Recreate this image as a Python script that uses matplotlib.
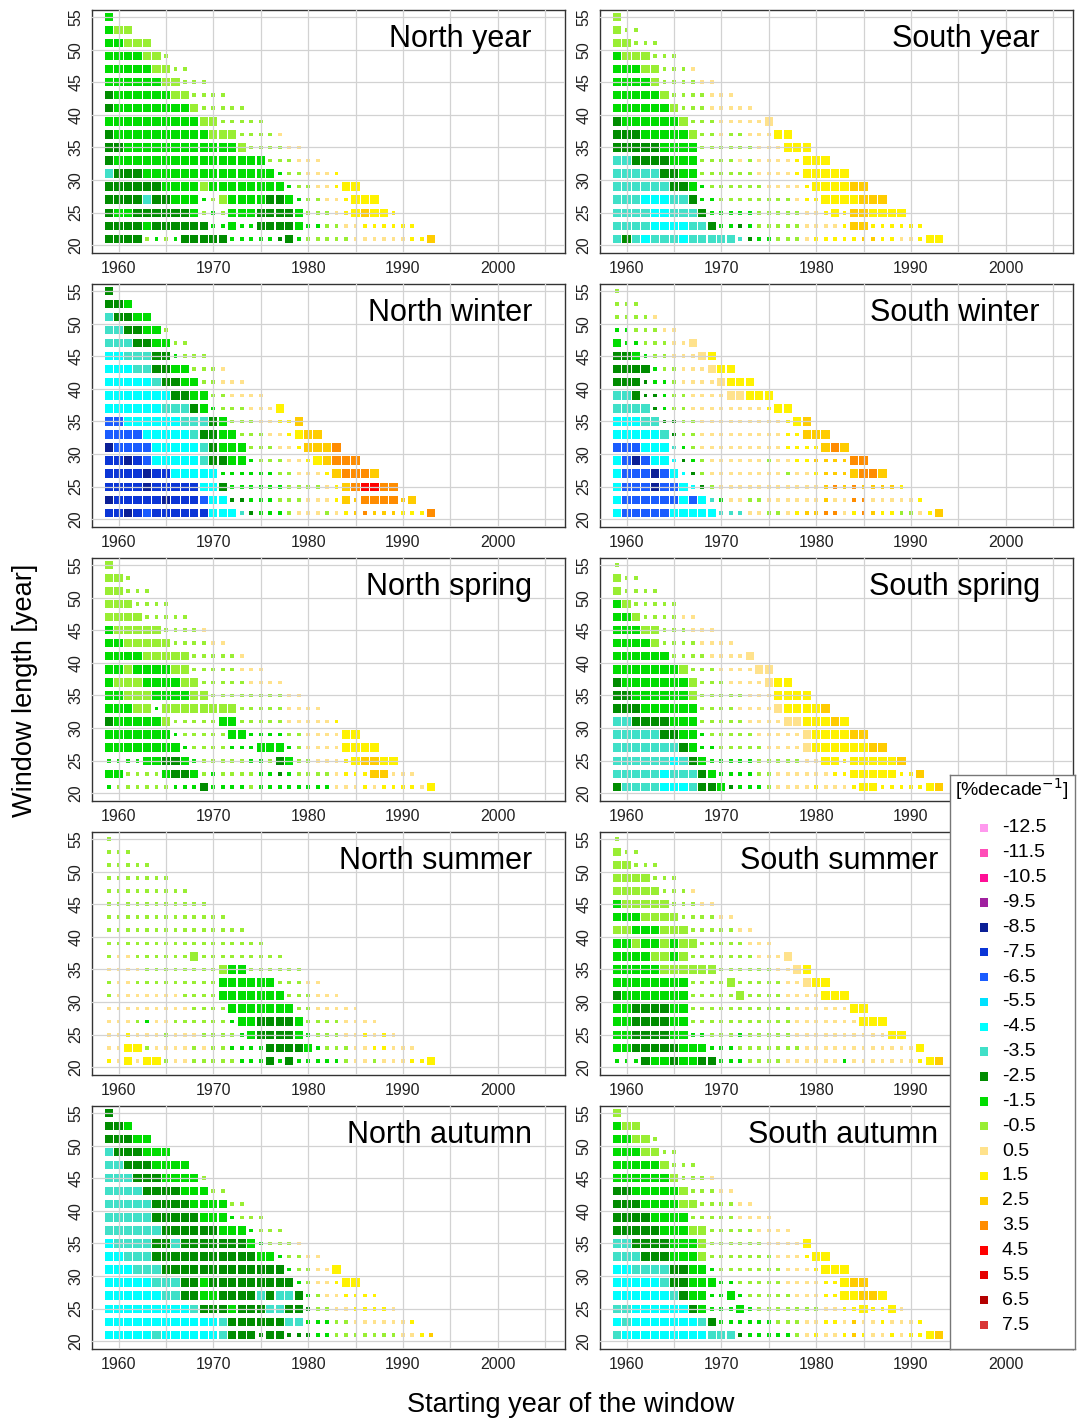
import numpy as np
import matplotlib
matplotlib.use("Agg")
import matplotlib.pyplot as plt
from matplotlib.colors import ListedColormap, BoundaryNorm

plt.rcParams["font.family"] = ["Liberation Sans", "DejaVu Sans"]

# ---------------- data ----------------
first_start = 1959
last_end = 2013
window_lengths = list(range(55, 20, -2))          # rows, top (55) to bottom (21)

legend_values = [-12.5, -11.5, -10.5, -9.5, -8.5, -7.5, -6.5, -5.5, -4.5, -3.5,
                 -2.5, -1.5, -0.5, 0.5, 1.5, 2.5, 3.5, 4.5, 5.5, 6.5, 7.5]
legend_colors = ["#FF99EE", "#FF4DB8", "#FF0F96", "#A0209F", "#0B1F96", "#0A35D6",
                 "#1A5CFF", "#00E1FF", "#00FFFF", "#40E0C8", "#008C00", "#00DD00",
                 "#99EE33", "#FFE28C", "#FFF200", "#FFCC00", "#FF8C00", "#FF0000",
                 "#E60000", "#B40000", "#D93535"]

# class letter -> trend class [%/decade]; upper case = significant (large square)
class_values = {"N": -8.5, "B": -7.5, "M": -6.5, "C": -5.5, "Q": -4.5, "T": -3.5,
                "D": -2.5, "G": -1.5, "L": -0.5, "P": 0.5, "Y": 1.5, "O": 2.5,
                "R": 3.5, "E": 4.5}

# run-length coded rows, window length 55 (top) ... 21 (bottom), start year 1959 onwards
north_year = ["G", "G L2", "G2 L3", "G4 L2 l", "G5 L2 l2", "G6 L2 l3", "D G6 L2 l4",
              "D G8 L l5", "G10 L2 l5", "D G10 L3 l4 p", "D2 G12 L l4 p2", "D G16 l3 p3",
              "T D3 G14 g l2 p3 y", "D6 G4 L G8 g l2 p2 y Y2",
              "D4 T D2 G3 g l L G4 D2 G g l2 p2 y Y3",
              "D G2 D6 G l g l G3 D4 G l3 p y Y O Y2 y",
              "D4 G D6 g2 G g2 D4 G g2 l2 p2 y6",
              "D4 l g l g D5 g5 d D g l5 p6 y2 O"]
south_year = ["L", "L l2", "L2 l3", "G L3 l3", "G3 L2 l3 p", "G4 L l4 p2", "G5 L l4 p3",
              "G6 L l3 p5", "D G6 L l3 p5 P", "D3 G5 L l2 p l2 p3 Y2", "D5 G4 l6 p3 Y3",
              "T2 D4 G3 l4 p l p4 y Y3", "T5 D2 G2 l6 p4 y Y5",
              "T6 D2 G g l6 p4 y Y4 O2", "T3 Q3 T2 D g2 l8 p y2 Y4 O3",
              "T4 Q2 T3 D g5 l5 p2 y Y y O2 Y4",
              "T4 Q4 T2 D g2 d g l5 p4 y O2 y6",
              "T D T Q T3 Q T5 t d g2 l3 p y5 o2 y2 p2 y Y2"]
north_winter = ["D", "D2 G", "T D2 G2", "T2 D2 G2 l", "T3 D2 G2 l2", "Q2 T3 D2 g l3",
                "Q3 T2 D2 G2 l3 p", "Q5 T D2 G2 l2 p3", "Q7 D2 G2 l2 p4",
                "Q6 T3 D G g l3 p3 Y", "M2 Q6 T3 D G l3 p2 y2 O",
                "M4 Q5 T D2 G2 l3 p2 y Y O2", "N M4 Q5 T D G3 l3 p2 y O3 R",
                "B2 N B M Q5 T D2 G2 g l3 p2 y Y O R3",
                "B4 N B2 Q5 g6 l2 p3 y O R3 O",
                "B4 N B5 Q2 D g6 l4 p y O R E2 R2",
                "N B5 N B3 M Q2 d2 g3 l3 p3 y O o R4 o O",
                "B2 N B M B6 Q3 t d g3 l p3 l p y o r o3 y3 R"]
south_winter = ["l", "l3", "l4 p", "g2 l3 p2", "G g2 l3 p2 P", "D2 G g l2 p3 P Y",
                "D4 g l2 p3 P Y2", "D3 d g2 l p4 P Y3", "T2 D d2 g l2 p4 P2 Y3",
                "T4 d g l2 p8 y Y2", "Q3 T2 d2 l2 p9 y Y O", "Q5 T d l2 p9 y2 O3",
                "M3 Q3 t g l p9 y4 O R O",
                "Q M N M Q2 q d g l p6 l p2 y2 o4 R2",
                "Q M3 N M Q q d l p8 l p2 y o3 O R2 O",
                "Q M3 N M2 Q q d l p11 o r o r o4 y",
                "Q M6 Q M Q t g p2 l2 p6 o p2 r2 p5 y",
                "Q M5 Q5 t3 p2 l2 p y o2 r2 p y r o y2 l2 p y O"]
north_spring = ["L", "L2 l", "L2 l3", "L3 l4", "L4 l5", "G L5 l4 p", "G2 L5 l4 p2",
                "G4 L5 l5 p", "G2 L G4 L2 l5 p3", "G L3 G4 L2 l5 p4", "G2 L3 G4 L2 l8 p2",
                "G3 L2 g L8 l5 p4", "D G5 L l5 G2 l5 p5 y", "G7 g l5 G2 g4 l2 p4 Y2",
                "G8 g l4 g3 G3 g l p4 Y4",
                "g4 G2 D2 G g l5 g2 l D G l2 p3 y Y O2 Y2",
                "G2 l4 G D2 G l g l4 g2 d g l4 p y3 O2 p3",
                "g l6 g3 D g4 l g8 p3 y p y4 p Y"]
south_spring = ["l", "L l2", "L l4", "G L l5", "G2 L l4 p2", "G3 L2 l3 p3", "G4 L l4 p4",
                "G6 l4 p4 P", "G7 L l3 p4 P2", "D G7 L l3 p4 P Y2", "D2 G6 L l5 p3 Y4",
                "D3 G6 l4 p4 P Y4 O", "T2 D4 G3 l5 p4 P2 Y3 O Y",
                "T5 D2 G2 g l5 p5 P Y4 O2", "T7 D G g2 l5 p4 P Y6 O2",
                "T6 Q T D G g5 l5 p2 Y2 y Y5 O",
                "T5 Q T3 D G g4 l2 p6 y2 Y5 y2 O",
                "D T4 Q3 T D2 G d g3 l p4 y p3 y Y2 y5 Y O"]
north_summer = ["l", "l3", "l5", "l7", "l9", "l11", "l13", "l15", "l17",
                "l p2 l6 L l9", "p4 l8 L G2 l6", "l p2 l9 G6 l3 p2", "l p7 l4 G7 l3 p3",
                "p9 l4 G7 l2 p5", "p3 l g p2 l6 g G2 D4 G l4 p4",
                "p2 y p3 l p3 l4 g G D4 G g l3 p2 y p y p",
                "p2 Y2 l p4 l p l2 g4 D4 G g l3 p2 y2 p3",
                "y p Y p Y2 l p2 l5 g3 D g D g5 l p2 l p3 y2 Y"]
south_summer = ["l", "L l2", "L2 l3", "L4 l3", "L5 l3 p", "G L5 l3 p2", "G3 L4 l4 p2",
                "L2 G3 L3 l5 p2", "G2 L G2 L G L2 l5 p3", "G4 L2 G L l7 p3 P",
                "G5 L6 l6 p2 P Y", "G8 l4 L l5 p2 P Y2", "D G7 l5 L l4 p4 Y3",
                "G2 D4 G2 l11 p6 Y2", "G2 D4 G2 l11 p7 Y3",
                "G2 D4 G2 g2 l3 g l5 p10 Y2", "G2 D5 G3 g3 l7 p12 Y",
                "g3 D G2 D G2 D2 g3 l4 p6 g p7 y Y O"]
north_autumn = ["D", "D2 G", "D3 G2", "T D3 G3", "T2 D3 G4", "T3 D3 G4 l", "T4 D4 G3 l2",
                "T5 D4 G4 l2", "T5 D5 G3 g l3", "T6 D6 G3 g l3", "Q T4 D2 T D7 G g l3 p",
                "Q2 T3 D11 G2 g l2 p2", "Q3 T3 D13 g l2 p2 Y",
                "Q5 T3 D2 G D9 g l p2 y Y2",
                "Q6 T2 D2 G2 D4 T D T2 D g l p2 y4",
                "Q9 T D3 G D3 T2 D2 d l2 p2 y4 p",
                "Q12 T D6 T2 g3 l2 p6 y",
                "Q5 T Q6 T D3 d D2 d3 g2 l7 p2 y o"]
south_autumn = ["L", "G L2", "G2 L2 l", "G3 L2 l2", "G5 L l3", "G6 L l3 p", "D2 G5 L l3 p2",
                "D3 G4 L2 l4 p2", "D4 G4 l5 p4", "D5 G3 L2 l5 p4", "T2 D4 G3 L l6 p4 Y",
                "T3 D3 G3 L l7 p3 y Y2", "Q2 T4 D2 G2 g l7 p3 y Y3",
                "Q5 T D2 G3 g2 l5 p4 y2 Y O2",
                "Q6 T D G2 g2 G g l5 p3 y2 Y2 O2 Y",
                "T2 Q6 D G g3 G g l7 p2 y2 Y y2 Y p",
                "Q T Q7 T D g6 l3 p2 y2 p o p2 y p3 y",
                "T Q9 T3 d g5 l p y p2 y o y p2 y p y2 Y O"]

panels = [("North year", north_year), ("South year", south_year),
          ("North winter", north_winter), ("South winter", south_winter),
          ("North spring", north_spring), ("South spring", south_spring),
          ("North summer", north_summer), ("South summer", south_summer),
          ("North autumn", north_autumn), ("South autumn", south_autumn)]

# panels whose "2000" label sits under the legend box
covered_by_legend = ("South spring", "South summer")


def decode(row):
    out = []
    for tok in row.split():
        n = int(tok[1:]) if len(tok) > 1 else 1
        out.extend([tok[0]] * n)
    return out


cmap = ListedColormap(legend_colors)
norm = BoundaryNorm(np.arange(-13, 9, 1), cmap.N)

W, H = 1081, 1422
fig = plt.figure(figsize=(W / 100, H / 100), dpi=100)

col_left = [92, 600]
row_top = [10, 284, 558, 832, 1106]
ax_w, ax_h = 473, 243

errors = []
for idx, (name, rows) in enumerate(panels):
    r, c = divmod(idx, 2)
    ax = fig.add_axes([col_left[c] / W, 1 - (row_top[r] + ax_h) / H, ax_w / W, ax_h / H])
    xs, ys, vs, big = [], [], [], []
    for L, row in zip(window_lengths, rows):
        cells = decode(row)
        n_expected = (last_end - L + 1) - first_start + 1
        if len(cells) != n_expected:
            errors.append(f"{name} L={L}: {len(cells)} != {n_expected}")
        for k, ch in enumerate(cells):
            xs.append(first_start + k)
            ys.append(L)
            vs.append(class_values[ch.upper()])
            big.append(ch.isupper())
    xs, ys, vs, big = map(np.array, (xs, ys, vs, big))
    ax.scatter(xs[big], ys[big], c=vs[big], cmap=cmap, norm=norm, marker="s",
               s=35, linewidths=0, zorder=1)
    ax.scatter(xs[~big], ys[~big], c=vs[~big], cmap=cmap, norm=norm, marker="s",
               s=7.5, linewidths=0, zorder=1)
    ax.set_xlim(1957.2, 2007.1)
    ax.set_ylim(18.8, 56.1)
    ax.set_xticks([1960, 1970, 1980, 1990, 2000])
    if name in covered_by_legend:
        ax.set_xticklabels(["1960", "1970", "1980", "1990", ""])
    ax.set_xticks([1965, 1975, 1985, 1995, 2005], minor=True)
    ax.set_yticks(range(20, 56, 5))
    ax.set_axisbelow(False)
    ax.grid(which="both", color="#d2d2d2", lw=0.9)
    ax.tick_params(which="both", length=0, labelsize=11.5, colors="#222222")
    ax.tick_params(axis="x", pad=6)
    ax.tick_params(axis="y", pad=6)
    for lab in ax.get_yticklabels():
        lab.set_rotation(90)
        lab.set_va("center")
    for sp in ax.spines.values():
        sp.set_color("#333333")
        sp.set_linewidth(1.0)
    tx = 0.715 if name in ("South summer", "South autumn") else 0.93
    ax.text(tx, 0.848, name, transform=ax.transAxes, ha="right", va="baseline",
            fontsize=22, color="black")

if errors:
    raise ValueError("; ".join(errors))

# legend box
lax = fig.add_axes([950 / W, 1 - 1349 / H, 125 / W, 574 / H])
lax.set_xlim(950, 1075)
lax.set_ylim(1349, 775)
lax.set_xticks([])
lax.set_yticks([])
lax.set_facecolor("white")
for sp in lax.spines.values():
    sp.set_color("#777777")
    sp.set_linewidth(1.0)
ly = 828 + 24.85 * np.arange(len(legend_values))
lax.scatter(np.full(len(legend_values), 984.0), ly, c=legend_values, cmap=cmap, norm=norm,
            marker="s", s=36, linewidths=0)
for v, yy in zip(legend_values, ly):
    lax.text(1002, yy, f"{v:g}", ha="left", va="center", fontsize=14)
lax.text(1012, 789, r"[%decade$^{-1}$]", ha="center", va="center", fontsize=14)

fig.text(25 / W, 1 - 690 / H, "Window length [year]", rotation=90, ha="center",
         va="center", fontsize=19.5)
fig.text(571 / W, 1 - 1405 / H, "Starting year of the window", ha="center",
         va="center", fontsize=19.5)

fig.savefig("out.png", dpi=100)
